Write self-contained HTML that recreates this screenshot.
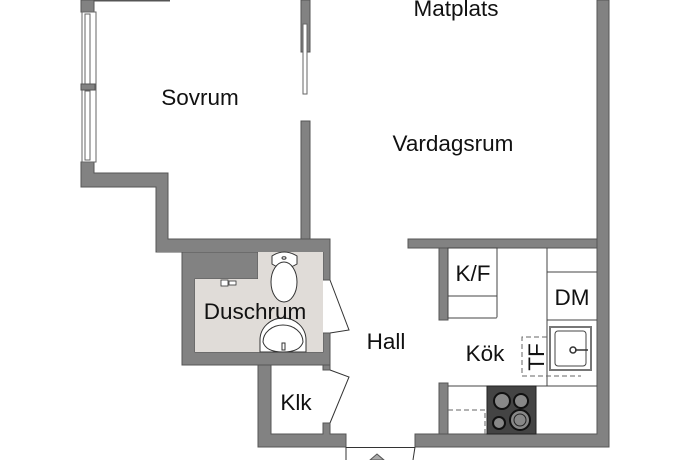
<!DOCTYPE html>
<html><head><meta charset="utf-8"><style>
html,body{margin:0;padding:0;background:#fff;width:690px;height:460px;overflow:hidden}
svg{display:block}
text{font-family:"Liberation Sans",Arial,sans-serif;fill:#111}
</style></head><body>
<svg width="690" height="460" viewBox="0 0 690 460" xmlns="http://www.w3.org/2000/svg">
<g fill="#828282" stroke="#555" stroke-width="1">
<rect x="81" y="0" width="13" height="12"/>
<path d="M81 162 H94 V173 H168 V239 H330 V280 H323 V252 H168 V252 H156 V187 H81 Z"/>
<rect x="301" y="0" width="9" height="52"/>
<rect x="301" y="121" width="9" height="118"/>
<path d="M182 252 H258 V279 H195 V352 H323 V333 H330 V365 H182 Z"/>
<path d="M258 365 H271 V434 H323 V423 H330 V434 H346 V447 H258 Z"/>
<rect x="323" y="365" width="7" height="5"/>
<path d="M415 434 H597 V0 H609 V447 H415 Z"/>
<rect x="408" y="239" width="189" height="9"/>
<rect x="439" y="248" width="9" height="72"/>
<rect x="439" y="383" width="9" height="51"/>
</g>
<rect x="157" y="240" width="172" height="12" fill="#828282"/>
<line x1="94" y1="0.5" x2="170" y2="0.5" stroke="#555" stroke-width="2"/>
<g fill="#fff" stroke="#666" stroke-width="1">
<rect x="82" y="12" width="14" height="150"/>
<rect x="85" y="14" width="5" height="70"/>
<rect x="85" y="91" width="5" height="69"/>
</g>
<rect x="81" y="84" width="14" height="6" fill="#828282" stroke="#555"/>
<rect x="303" y="24" width="4" height="70" fill="#fff" stroke="#666"/>
<path d="M258 252 H323 V352 H195 V279 H258 Z" fill="#e0dcd8"/>
<g fill="#fff" stroke="#333" stroke-width="1">
<path d="M272 256 Q284 248 297 256 L297 264 Q284 272 272 264 Z"/>
<ellipse cx="284" cy="282" rx="13" ry="20"/>
<ellipse cx="284" cy="258" rx="2" ry="1.2"/>
<path d="M260 352 V340 A23 22 0 0 1 306 340 V352 Z"/>
<path d="M263 342 A20 17 0 0 1 303 342 Q300 352 283 352 Q266 352 263 342 Z"/>
<rect x="282" y="343" width="3" height="7"/>
</g>
<g fill="#fff" stroke="#333" stroke-width="0.8"><rect x="221" y="280" width="7" height="6"/><rect x="229" y="281" width="7" height="4"/></g>
<g fill="none" stroke="#333" stroke-width="1">
<polyline points="330,280 349,330 330,333"/>
<polyline points="330,370 349,377 330,423"/>
<line x1="346" y1="447" x2="346" y2="460"/>
<line x1="415" y1="447" x2="413" y2="460"/>
<line x1="346" y1="447.5" x2="415" y2="447.5"/>
</g>
<path d="M370 460 L377 454 L384 460 Z" fill="#aaa" stroke="#555"/>
<g fill="#fff" stroke="#444" stroke-width="1">
<rect x="448" y="248" width="49" height="48"/>
<rect x="448" y="296" width="49" height="22"/>
<path d="M547 248 V386 H448"/>
<line x1="547" y1="272" x2="597" y2="272"/>
<line x1="547" y1="320" x2="597" y2="320"/>
<rect x="550" y="327" width="41" height="43" stroke-width="2" stroke="#777"/>
<rect x="555" y="331" width="31" height="35" rx="3"/>
</g>
<circle cx="573" cy="350" r="3" fill="#fff" stroke="#333" stroke-width="1.5"/>
<line x1="575" y1="350" x2="588" y2="350" stroke="#333" stroke-width="1.5"/>
<g fill="none" stroke="#666" stroke-dasharray="5,3">
<path d="M547 337 H522 V376 H581"/>
<path d="M448 410 H485 V434"/>
</g>
<line x1="448" y1="386" x2="597" y2="386" stroke="#444"/>
<rect x="487" y="386" width="49" height="48" fill="#444" stroke="#222"/>
<g fill="#888" stroke="#111" stroke-width="2">
<circle cx="502" cy="401" r="8"/><circle cx="521" cy="401" r="7"/>
<circle cx="499" cy="423" r="6"/><circle cx="520" cy="420" r="10"/>
</g>
<circle cx="520" cy="420" r="6" fill="none" stroke="#222"/>
<g font-size="22.5">
<text x="456" y="16" text-anchor="middle">Matplats</text>
<text x="200" y="105" text-anchor="middle">Sovrum</text>
<text x="453" y="151" text-anchor="middle">Vardagsrum</text>
<text x="473" y="281" text-anchor="middle">K/F</text>
<text x="572" y="305" text-anchor="middle">DM</text>
<text x="255" y="319" text-anchor="middle">Duschrum</text>
<text x="386" y="349" text-anchor="middle">Hall</text>
<text x="485" y="361" text-anchor="middle">Kök</text>
<text x="296" y="410" text-anchor="middle">Klk</text>
<text transform="translate(544,357) rotate(-90)" text-anchor="middle">TF</text>
</g>
</svg>
</body></html>
